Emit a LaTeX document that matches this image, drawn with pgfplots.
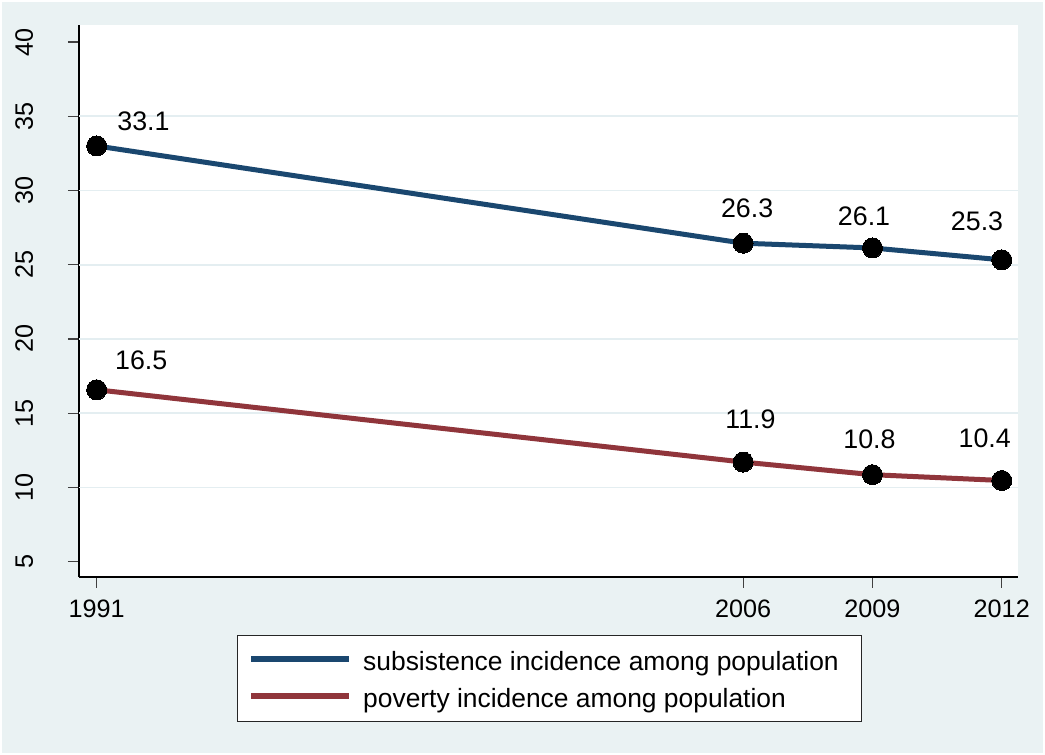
\documentclass[border=0pt]{standalone}
\usepackage{pgfplots}
\usepackage{pgfplotstable}
\pgfplotsset{compat=1.18}
\usepackage{fontspec}
\setmainfont{Liberation Sans}
\definecolor{bgc}{HTML}{EAF2F3}
\definecolor{gridc}{HTML}{E4EEF1}
\definecolor{navy}{HTML}{1A476F}
\definecolor{maroon}{HTML}{90353B}

% year, plotted value, label, label offset (pt)
\pgfplotstableread{
year y lab dx dy
1991 33.0 33.1 23.4 7.6
2006 26.45 26.3 2.0 12.6
2009 26.13 26.1 -4.2 11.45
2012 25.33 25.3 -12.35 14.9
}\subsist
\pgfplotstableread{
year y lab dx dy
1991 16.58 16.5 22.3 10.2
2006 11.71 11.9 3.65 17.0
2009 10.86 10.8 -1.5 13.2
2012 10.47 10.4 -8.5 16.6
}\poverty

\begin{document}
\begin{tikzpicture}
\fill[white] (-39.5pt,-89pt) rectangle (483pt,288.5pt);
\fill[bgc] (-38.5pt,-88pt) rectangle (482pt,287.5pt);
\fill[white] (0pt,0pt) rectangle (469.35pt,276pt);
\begin{axis}[
  scale only axis, width=469.35pt, height=276pt,
  xmin=1990.59, xmax=2012.37, ymin=3.97, ymax=41.145,
  axis x line*=bottom, axis y line*=left,
  axis line style={black, line width=0.6pt},
  tick align=outside, major tick length=5.5pt,
  tick style={black!75, line width=0.6pt},
  xtick={1991,2006,2009,2012},
  ytick={5,10,...,40},
  extra y ticks={10,15,...,35}, extra y tick labels={},
  extra y tick style={grid=major, tick style={draw=none}},
  major grid style={gridc, line width=0.9pt},
  /pgf/number format/assume math mode=true,
  /pgf/number format/1000 sep={},
  ticklabel style={font=\fontsize{12.6}{15}\selectfont},
  yticklabel style={rotate=90, anchor=base},
  yticklabel shift=17.5pt,
  xticklabel shift=2.3pt,
  clip=false,
  legend style={at={(axis description cs:0.168,-0.105)}, anchor=north west,
    draw=black!85, line width=0.5pt, fill=white,
    inner xsep=5.5pt, inner ysep=5.5pt, row sep=5pt,
    font=\fontsize{13.2}{16}\selectfont,
    nodes={inner sep=0pt, text height=12pt, text depth=1.5pt},
    cells={anchor=west}},
  legend image code/.code={\draw[#1,line width=3pt] (0pt,0.5pt) -- (49pt,0.5pt); \path[draw=none,fill=none] (0pt,-1pt) rectangle (56pt,6.5pt);},
  every axis plot/.append style={line width=2.5pt, line join=round},
  nodes near coords,
  point meta=explicit symbolic,
  nodes near coords style={black, font=\fontsize{13.4}{16}\selectfont,
    anchor=base, inner sep=0pt, xshift=\dx pt, yshift=\dy pt},
  visualization depends on={\thisrow{dx} \as \dx},
  visualization depends on={\thisrow{dy} \as \dy},
]
\addplot[navy, mark=*, mark size=5pt, mark options={fill=black, draw=black, line width=0pt}]
  table[x=year, y=y, meta=lab] {\subsist};
\addlegendentry{subsistence incidence among population\rule{5.7pt}{0pt}}
\addplot[maroon, mark=*, mark size=5pt, mark options={fill=black, draw=black, line width=0pt}]
  table[x=year, y=y, meta=lab] {\poverty};
\addlegendentry{poverty incidence among population}
\end{axis}
\end{tikzpicture}
\end{document}
